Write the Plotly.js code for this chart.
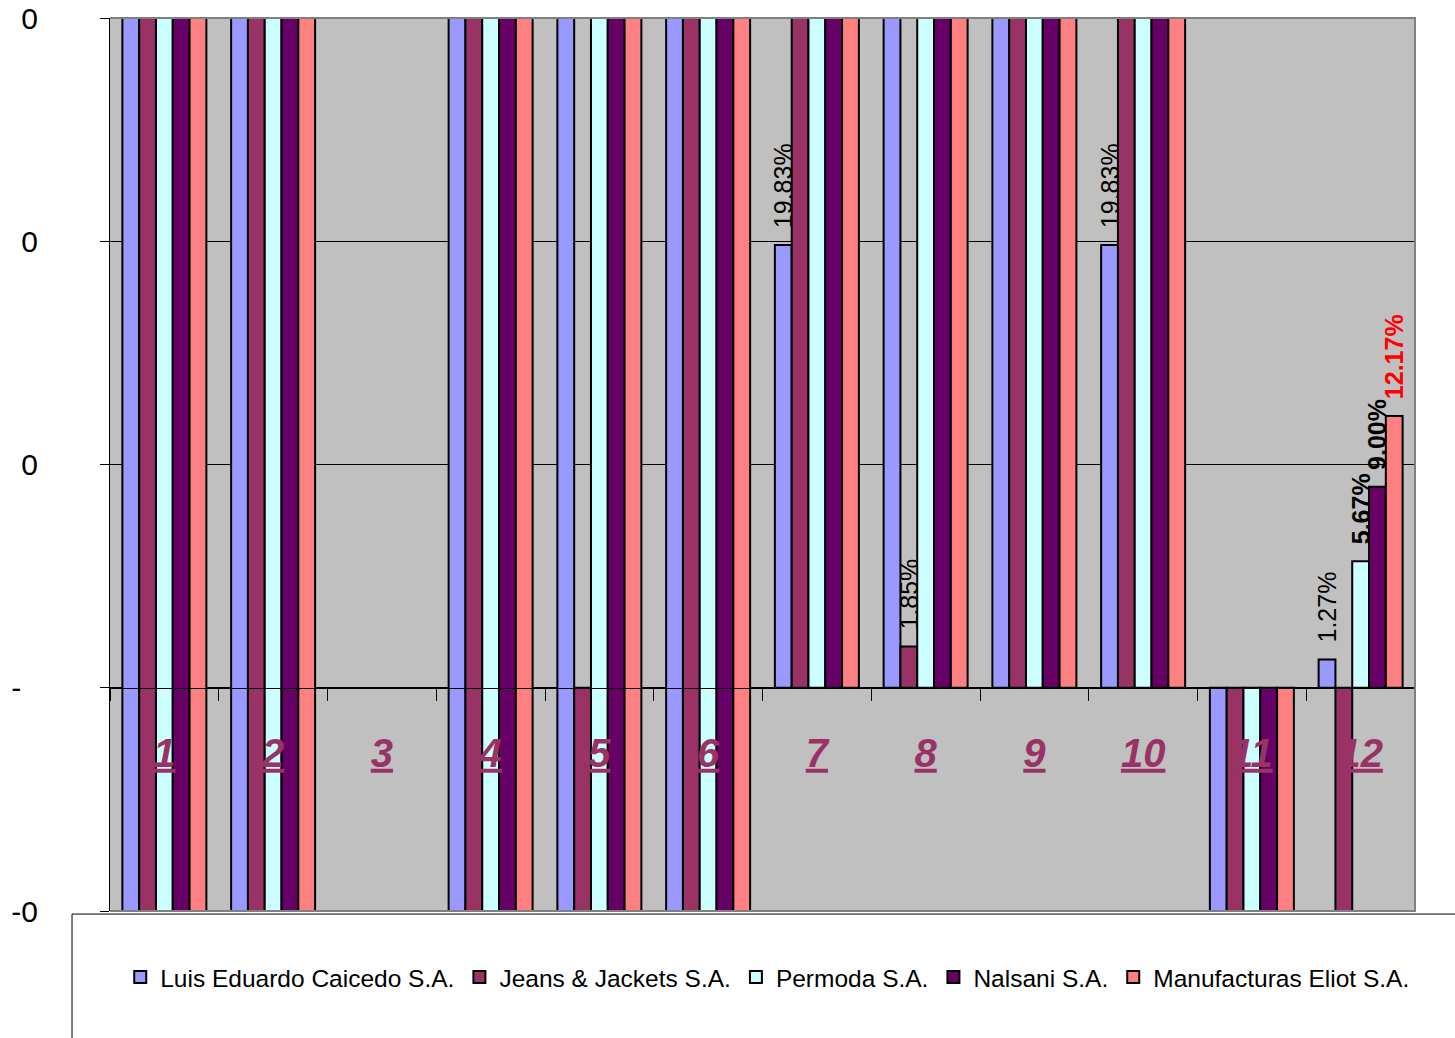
<!DOCTYPE html>
<html>
<head>
<meta charset="utf-8">
<script src="https://cdn.plot.ly/plotly-3.0.1.min.js"></script>
<style>
html,body{margin:0;padding:0;background:#fff;}
#chart{width:1455px;height:1038px;}
</style>
</head>
<body>
<div id="chart"></div>
<script>
// ---- data ----
const categories = ['1','2','3','4','5','6','7','8','9','10','11','12'];
const seriesNames = ['Luis Eduardo Caicedo S.A.','Jeans & Jackets S.A.','Permoda S.A.','Nalsani S.A.','Manufacturas Eliot S.A.'];
// HI = off the chart above the axis maximum, LO = off the chart below the axis minimum,
// 'F' = bar drawn across the whole value axis (off-scale both ways), null = no bar
const HI = 1, LO = -1;
const luis    = ['F','F',null,'F','F','F',0.1983,HI,HI,0.1983,LO,0.0127];
const jeans   = ['F','F',null,'F',LO,'F',HI,0.0185,HI,HI,LO,LO];
const permoda = ['F','F',null,'F','F','F',HI,HI,HI,HI,LO,0.0567];
const nalsani = ['F','F',null,'F','F','F',HI,HI,HI,HI,LO,0.0900];
const eliot   = ['F','F',null,'F','F','F',HI,HI,HI,HI,LO,0.1217];
const yTickVals = [-0.1, 0, 0.1, 0.2, 0.3];
const yTickText = ['-0', '-\u00a0\u00a0', '0', '0', '0'];

// ---- styles ----
const FONT = '"Liberation Sans", Arial, sans-serif';
const colors = ['#9999FF','#993366','#CCFFFF','#660066','#FF8080'];
const labelBold = [false, false, true, true, true];
const labelColor = ['#000000','#000000','#000000','#000000','#FF0000'];
const allSeries = [luis, jeans, permoda, nalsani, eliot];

const traces = allSeries.map((vals, i) => {
  const y = [], base = [], text = [];
  vals.forEach(v => {
    if (v === 'F') { base.push(LO); y.push(HI - LO); text.push(''); }
    else if (v === null) { base.push(0); y.push(null); text.push(''); }
    else {
      base.push(0); y.push(v);
      if (v !== HI && v !== LO) {
        const s = (v * 100).toFixed(2) + '%';
        text.push('\u00a0\u00a0' + (labelBold[i] ? '<b>' + s + '</b>' : s));
      } else text.push('');
    }
  });
  return {
    type: 'bar', name: seriesNames[i], x: categories, y: y, base: base,
    text: text, textposition: 'outside', textangle: -90, constraintext: 'none',
    textfont: {family: FONT, size: 25, color: labelColor[i]},
    marker: {color: colors[i], line: {color: '#000000', width: 2}},
    hoverinfo: 'skip'
  };
});

const layout = {
  width: 1455, height: 1038,
  margin: {l: 110, r: 40, t: 18, b: 127, pad: 0},
  paper_bgcolor: '#FFFFFF', plot_bgcolor: '#C0C0C0',
  barmode: 'group', bargap: 0.2276, bargroupgap: 0,
  showlegend: true,
  legend: {orientation: 'h', x: 0.504, xanchor: 'center', y: -0.074, yanchor: 'middle',
           font: {family: FONT, size: 24.5, color: '#000'}, bgcolor: 'rgba(0,0,0,0)'},
  xaxis: {type: 'category', anchor: 'free', position: 0.25,
          tickvals: categories, ticktext: categories.map(c => '<u>' + c + '</u>'),
          tickson: 'boundaries', ticks: 'outside', ticklen: 12, tickcolor: '#000', tickwidth: 1,
          showline: true, linecolor: '#000', linewidth: 1, layer: 'above traces',
          showgrid: false, zeroline: false,
          tickfont: {family: FONT, size: 40, color: '#993366', weight: 'bold', style: 'italic'},
          ticklabelstandoff: 30},
  yaxis: {range: [-0.1, 0.3], tickmode: 'array', tickvals: yTickVals, ticktext: yTickText,
          ticks: 'outside', ticklen: 9, tickcolor: '#000', tickwidth: 1,
          showline: true, linecolor: '#000', linewidth: 1,
          showgrid: true, gridcolor: '#000', gridwidth: 1, zeroline: false,
          tickfont: {family: FONT, size: 30, color: '#000'}, ticklabelstandoff: 56},
  shapes: [
    {type: 'path', xref: 'paper', yref: 'paper', path: 'M0,1 L1,1 L1,0 L0,0',
     line: {color: '#808080', width: 2}, layer: 'above'},
    {type: 'rect', xref: 'paper', yref: 'paper', x0: -0.0291, x1: 1.2, y0: -0.0034, y1: -0.4,
     line: {color: '#000000', width: 1}, fillcolor: 'rgba(0,0,0,0)', layer: 'above'}
  ]
};

Plotly.newPlot('chart', traces, layout, {displayModeBar: false, staticPlot: true});
</script>
</body>
</html>
